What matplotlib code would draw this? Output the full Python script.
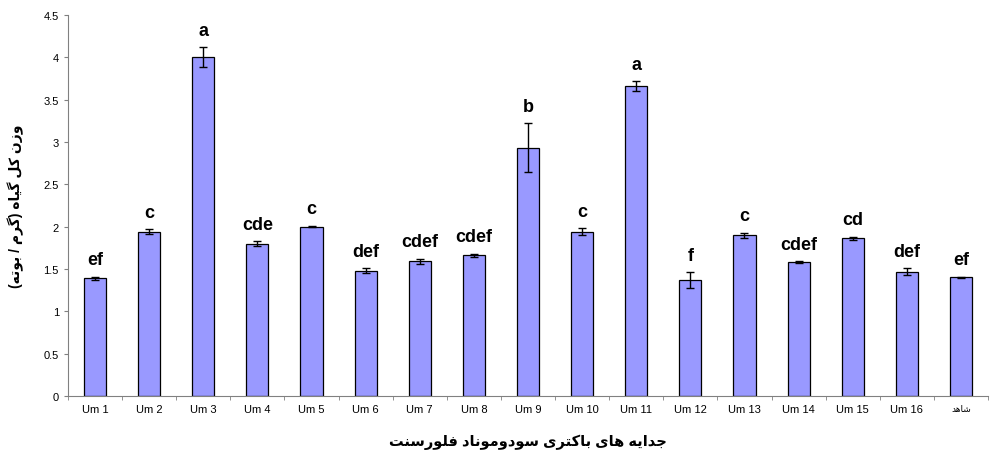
import numpy as np
import matplotlib.pyplot as plt

isolates = ['Um 1', 'Um 2', 'Um 3', 'Um 4', 'Um 5', 'Um 6', 'Um 7', 'Um 8', 'Um 9',
            'Um 10', 'Um 11', 'Um 12', 'Um 13', 'Um 14', 'Um 15', 'Um 16', 'شاهد']
weight = [1.39, 1.94, 4.00, 1.80, 2.00, 1.48, 1.59, 1.66, 2.93,
          1.94, 3.66, 1.37, 1.90, 1.58, 1.86, 1.47, 1.40]
err = [0.02, 0.03, 0.12, 0.03, 0.01, 0.03, 0.03, 0.02, 0.29,
       0.04, 0.06, 0.09, 0.03, 0.01, 0.02, 0.04, 0.01]
groups = ['ef', 'c', 'a', 'cde', 'c', 'def', 'cdef', 'cdef', 'b',
          'c', 'a', 'f', 'c', 'cdef', 'cd', 'def', 'ef']

ylab = 'وزن کل گیاه (گرم / بوته)'
xlab = 'جدایه های باکتری سودوموناد فلورسنت'

# presentation forms: isolated, final, initial, medial (None = does not join forward)
FORMS = {
    'ا': ('\uFE8D', '\uFE8E', None, None),
    'ب': ('\uFE8F', '\uFE90', '\uFE91', '\uFE92'),
    'ت': ('\uFE95', '\uFE96', '\uFE97', '\uFE98'),
    'ج': ('\uFE9D', '\uFE9E', '\uFE9F', '\uFEA0'),
    'د': ('\uFEA9', '\uFEAA', None, None),
    'ر': ('\uFEAD', '\uFEAE', None, None),
    'ز': ('\uFEAF', '\uFEB0', None, None),
    'س': ('\uFEB1', '\uFEB2', '\uFEB3', '\uFEB4'),
    'ش': ('\uFEB5', '\uFEB6', '\uFEB7', '\uFEB8'),
    'ف': ('\uFED1', '\uFED2', '\uFED3', '\uFED4'),
    'ک': ('\uFB8E', '\uFB8F', '\uFB90', '\uFB91'),
    'گ': ('\uFB92', '\uFB93', '\uFB94', '\uFB95'),
    'ل': ('\uFEDD', '\uFEDE', '\uFEDF', '\uFEE0'),
    'م': ('\uFEE1', '\uFEE2', '\uFEE3', '\uFEE4'),
    'ن': ('\uFEE5', '\uFEE6', '\uFEE7', '\uFEE8'),
    'ه': ('\uFEE9', '\uFEEA', '\uFEEB', '\uFEEC'),
    'و': ('\uFEED', '\uFEEE', None, None),
    'ی': ('\uFBFC', '\uFBFD', '\uFBFE', '\uFBFF'),
}


def shape(txt):
    out = []
    for i, ch in enumerate(txt):
        if ch not in FORMS:
            out.append(ch)
            continue
        prev = txt[i - 1] if i > 0 else ''
        nxt = txt[i + 1] if i + 1 < len(txt) else ''
        join_prev = prev in FORMS and FORMS[prev][2] is not None
        join_next = nxt in FORMS and FORMS[ch][2] is not None
        iso, fin, ini, med = FORMS[ch]
        if join_prev and join_next:
            out.append(med)
        elif join_prev:
            out.append(fin)
        elif join_next:
            out.append(ini)
        else:
            out.append(iso)
    vis = ''.join(reversed(out))
    return vis.translate(str.maketrans('()', ')('))


plt.rcParams['font.family'] = ['Liberation Sans', 'DejaVu Sans']

fig = plt.figure(figsize=(9.92, 4.52), dpi=100)
ax = fig.add_axes([0.0685, 0.1217, 0.9275, 0.843])

x = np.arange(len(isolates))
ax.bar(x, weight, width=0.41, color='#9999ff', edgecolor='black', linewidth=0.9, zorder=2)
ax.errorbar(x, weight, yerr=err, fmt='none', ecolor='black', elinewidth=1,
            capsize=3, capthick=1, zorder=3)

for xi, w, e, g in zip(x, weight, err, groups):
    ax.annotate(g, (xi, w + e), xytext=(0, 6), textcoords='offset points',
                ha='center', va='bottom', fontsize=13, fontweight='bold')

ax.set_xlim(-0.5, len(isolates) - 0.5)
ax.set_ylim(0, 4.5)
ax.set_yticks(np.arange(0, 4.51, 0.5))
ax.set_yticklabels(['0', '0.5', '1', '1.5', '2', '2.5', '3', '3.5', '4', '4.5'])

ax.set_xticks(x)
labels = isolates[:-1] + [shape(isolates[-1])]
ax.set_xticklabels(labels, fontsize=8)
ax.get_xticklabels()[-1].set_fontsize(6.5)
ax.set_xticks(np.arange(-0.5, len(isolates), 1), minor=True)
ax.tick_params(axis='x', which='major', length=0, pad=6)
ax.tick_params(axis='x', which='minor', length=3, color='#808080')
ax.tick_params(axis='y', labelsize=8, length=3, color='#808080')

for s in ['top', 'right']:
    ax.spines[s].set_visible(False)
for s in ['left', 'bottom']:
    ax.spines[s].set_color('#808080')

ax.set_ylabel(shape(ylab), fontsize=10, fontweight='bold', labelpad=14)
ax.set_xlabel(shape(xlab), fontsize=10.5, fontweight='bold', labelpad=14)

fig.savefig('out.png', dpi=100)
